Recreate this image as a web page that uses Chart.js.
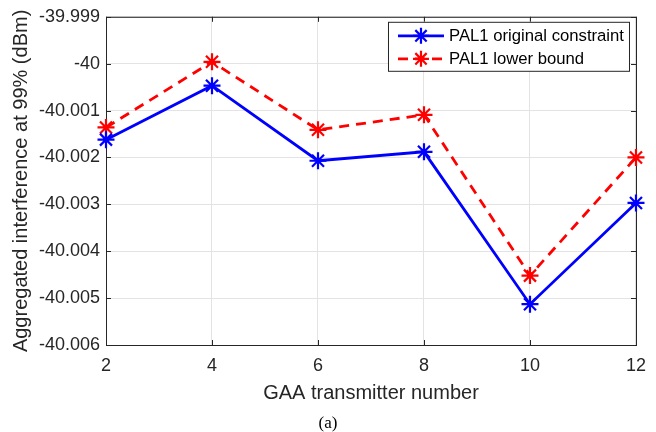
<!DOCTYPE html>
<html>
<head>
<meta charset="utf-8">
<script src="https://cdn.jsdelivr.net/npm/chart.js@4.4.0/dist/chart.umd.min.js"></script>
<style>
    html, body { margin: 0; padding: 0; background: #fff; }
    #wrap { width: 656px; height: 432px; position: relative; }
</style>
</head>
<body>
<div id="wrap"><canvas id="myChart"></canvas></div>
<script>
    // values
    const transmitters = [2, 4, 6, 8, 10, 12]
    const originalConstraint = [-40.00162, -40.00047, -40.00207, -40.00188, -40.00513, -40.00297]
    const lowerBound = [-40.00136, -39.99996, -40.00141, -40.00109, -40.00452, -40.00200]
    const xTickValues = [2, 4, 6, 8, 10, 12]
    const yTickValues = [-40.006, -40.005, -40.004, -40.003, -40.002, -40.001, -40, -39.999]
    const yTickLabels = ['-40.006', '-40.005', '-40.004', '-40.003', '-40.002', '-40.001', '-40', '-39.999']

    const seriesNames = ['PAL1 original constraint', 'PAL1 lower bound']
    const axisColor = '#262626'
    const gridColor = '#e3e3e3'
    const fontFamily = "'Liberation Sans', Arial, Helvetica, sans-serif"

    function toPoints(ys) {
        return transmitters.map((x, i) => ({ x: x, y: ys[i] }))
    }

    function drawStar(ctx, x, y, r, color, lw) {
        ctx.save()
        ctx.strokeStyle = color
        ctx.lineWidth = lw
        ctx.setLineDash([])
        ctx.beginPath()
        for (let k = 0; k < 4; k++) {
            const a = k * Math.PI / 4
            ctx.moveTo(x - r * Math.cos(a), y - r * Math.sin(a))
            ctx.lineTo(x + r * Math.cos(a), y + r * Math.sin(a))
        }
        ctx.stroke()
        ctx.restore()
    }

    // box, inward ticks, legend and caption in the MATLAB look
    const matlabDecor = {
        id: 'matlabDecor',
        beforeDatasetsDraw(chart) {
            const ctx = chart.ctx
            const a = chart.chartArea
            const xs = chart.scales.x
            const ys = chart.scales.y
            ctx.save()
            ctx.strokeStyle = axisColor
            ctx.lineWidth = 1
            ctx.strokeRect(a.left + 0.5, a.top + 0.5, a.right - a.left, a.bottom - a.top)
            ctx.beginPath()
            const t = 5
            xTickValues.forEach(v => {
                const px = Math.round(xs.getPixelForValue(v)) + 0.5
                ctx.moveTo(px, a.bottom); ctx.lineTo(px, a.bottom - t)
                ctx.moveTo(px, a.top); ctx.lineTo(px, a.top + t)
            })
            yTickValues.forEach(v => {
                const py = Math.round(ys.getPixelForValue(v)) + 0.5
                ctx.moveTo(a.left, py); ctx.lineTo(a.left + t, py)
                ctx.moveTo(a.right, py); ctx.lineTo(a.right - t, py)
            })
            ctx.stroke()
            ctx.restore()
        },
        afterDraw(chart) {
            const ctx = chart.ctx
            const a = chart.chartArea
            ctx.save()
            // legend
            const lx = a.right - 248, ly = a.top + 5, lw = 241, lh = 49
            ctx.fillStyle = '#fff'
            ctx.fillRect(lx, ly, lw, lh)
            ctx.strokeStyle = axisColor
            ctx.lineWidth = 1
            ctx.strokeRect(lx + 0.5, ly + 0.5, lw, lh)
            ctx.font = '16.7px ' + fontFamily
            ctx.textBaseline = 'middle'
            chart.data.datasets.forEach((ds, i) => {
                const rowY = ly + 14 + i * 23
                ctx.save()
                ctx.strokeStyle = ds.borderColor
                ctx.lineWidth = ds.borderWidth
                ctx.setLineDash(ds.borderDash || [])
                ctx.beginPath()
                ctx.moveTo(lx + 10, rowY)
                ctx.lineTo(lx + 56, rowY)
                ctx.stroke()
                ctx.restore()
                drawStar(ctx, lx + 33, rowY, 8, ds.borderColor, 2.2)
                ctx.fillStyle = '#000'
                ctx.fillText(ds.label, lx + 61, rowY + 1)
            })

            // caption
            ctx.font = '17px "Liberation Serif", "Times New Roman", serif'
            ctx.fillStyle = '#000'
            ctx.textAlign = 'center'
            ctx.fillText('(a)', chart.width / 2, 424)
            ctx.restore()
        }
    }

    const ctx = document.getElementById('myChart').getContext('2d')
    const chart = new Chart(ctx, {
        type: 'line',
        data: {
            datasets: [{
                label: seriesNames[0],
                data: toPoints(originalConstraint),
                borderColor: '#0000ff',
                backgroundColor: '#0000ff',
                borderWidth: 2.8,
                pointStyle: 'star',
                pointRadius: 8.5,
                pointBorderWidth: 2.2,
                pointBorderColor: '#0000ff',
                tension: 0,
                clip: false
            }, {
                label: seriesNames[1],
                data: toPoints(lowerBound),
                borderColor: '#ff0000',
                backgroundColor: '#ff0000',
                borderWidth: 2.8,
                borderDash: [10, 7],
                pointStyle: 'star',
                pointRadius: 8.5,
                pointBorderWidth: 2.2,
                pointBorderColor: '#ff0000',
                tension: 0,
                clip: false
            }]
        },
        options: {
            responsive: false,
            maintainAspectRatio: false,
            animation: false,
            layout: { padding: { top: 15, right: 20, bottom: 26, left: 0 } },
            plugins: {
                legend: { display: false },
                tooltip: { enabled: false }
            },
            scales: {
                x: {
                    type: 'linear',
                    min: 2,
                    max: 12,
                    afterBuildTicks: scale => { scale.ticks = xTickValues.map(v => ({ value: v })) },
                    afterFit: scale => { scale.height = 61 },
                    grid: { color: gridColor, drawTicks: false },
                    border: { display: false },
                    ticks: {
                        color: axisColor,
                        padding: 10,
                        maxRotation: 0,
                        font: { family: fontFamily, size: 18 }
                    },
                    title: {
                        display: true,
                        text: 'GAA transmitter number',
                        color: axisColor,
                        padding: { top: 0, bottom: 1 },
                        font: { family: fontFamily, size: 20 }
                    }
                },
                y: {
                    min: -40.006,
                    max: -39.999,
                    afterBuildTicks: scale => { scale.ticks = yTickValues.map(v => ({ value: v })) },
                    afterFit: scale => { scale.width = 106 },
                    grid: { color: gridColor, drawTicks: false },
                    border: { display: false },
                    ticks: {
                        color: axisColor,
                        padding: 6,
                        font: { family: fontFamily, size: 18 },
                        callback: (v, i) => yTickLabels[i]
                    },
                    title: {
                        display: true,
                        text: 'Aggregated interference at 99% (dBm)',
                        color: axisColor,
                        padding: { top: 9, bottom: 0 },
                        font: { family: fontFamily, size: 20 }
                    }
                }
            }
        },
        plugins: [matlabDecor]
    })
    chart.resize(656, 432)
</script>
</body>
</html>
